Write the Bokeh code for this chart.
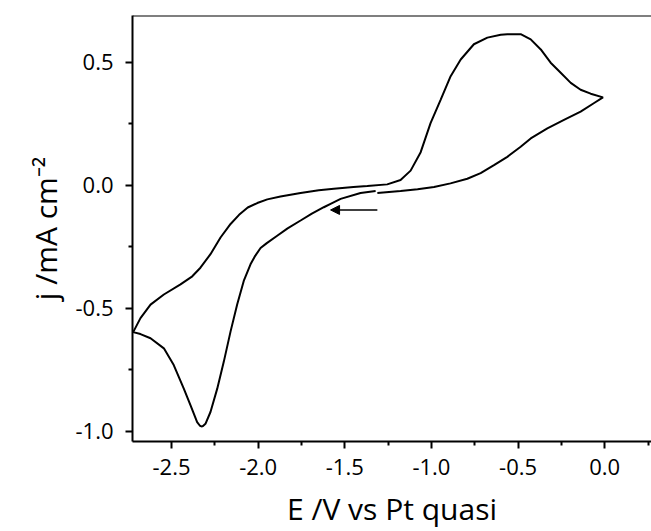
from bokeh.plotting import figure
from bokeh.models import Range1d, Span, Arrow, NormalHead, FixedTicker, PrintfTickFormatter
from bokeh.embed import file_html
from bokeh.resources import INLINE

# ---- data (E / V vs Pt quasi, j / mA cm^-2) ----
cathodic_E = [-1.322, -1.409, -1.524, -1.582, -1.621, -1.690, -1.755, -1.830, -1.890, -1.950,
              -1.986, -2.020, -2.044, -2.083, -2.121, -2.159, -2.198, -2.236, -2.275, -2.304,
              -2.318, -2.327, -2.337, -2.352, -2.390, -2.429, -2.487, -2.544, -2.621, -2.679, -2.721]
cathodic_j = [-0.023, -0.031, -0.055, -0.075, -0.089, -0.115, -0.143, -0.175, -0.205, -0.235,
              -0.255, -0.290, -0.321, -0.389, -0.485, -0.594, -0.717, -0.827, -0.922, -0.970,
              -0.979, -0.981, -0.977, -0.963, -0.895, -0.827, -0.731, -0.663, -0.622, -0.605, -0.597]

anodic_E = [-2.679, -2.621, -2.544, -2.448, -2.380, -2.333, -2.275, -2.217, -2.159, -2.110,
            -2.060, -2.005, -1.947, -1.871, -1.755, -1.650, -1.563, -1.450, -1.370, -1.255,
            -1.178, -1.120, -1.062, -1.005, -0.947, -0.889, -0.831, -0.755, -0.677, -0.600,
            -0.562, -0.485, -0.427, -0.369, -0.312, -0.254, -0.196, -0.139, -0.081, -0.010]
anodic_j = [-0.540, -0.485, -0.444, -0.403, -0.370, -0.335, -0.280, -0.212, -0.157, -0.120,
            -0.090, -0.072, -0.057, -0.045, -0.031, -0.020, -0.014, -0.007, -0.003, 0.004,
            0.022, 0.060, 0.135, 0.253, 0.348, 0.444, 0.512, 0.574, 0.601, 0.613,
            0.615, 0.615, 0.594, 0.553, 0.499, 0.458, 0.417, 0.389, 0.373, 0.358]

return_E = [-0.061, -0.139, -0.235, -0.331, -0.427, -0.485, -0.562, -0.639, -0.716, -0.793,
            -0.890, -0.985, -1.080, -1.178, -1.312]
return_j = [0.335, 0.300, 0.266, 0.232, 0.191, 0.157, 0.116, 0.082, 0.050, 0.027,
            0.008, -0.007, -0.016, -0.023, -0.031]

arrow_E = [-1.312, -1.582]
arrow_j = [-0.100, -0.100]

x_ticks = [-2.5, -2.0, -1.5, -1.0, -0.5, 0.0]
x_minor = [-2.75, -2.25, -1.75, -1.25, -0.75, -0.25, 0.25]
y_ticks = [-1.0, -0.5, 0.0, 0.5]
y_minor = [-0.75, -0.25, 0.25]

x_title = "E /V vs Pt quasi"
y_title = "j /mA cm\u207b\u00b2"

E = cathodic_E + anodic_E + return_E
j = cathodic_j + anodic_j + return_j

X0, X1 = -2.725, 0.270
Y0, Y1 = -1.042, 0.691
FONT = "Open Sans"

p = figure(width=651, height=531, output_backend="svg", toolbar_location=None,
           x_range=Range1d(X0, X1), y_range=Range1d(Y0, Y1),
           min_border_left=132, min_border_right=0, min_border_top=15, min_border_bottom=90)
p.grid.visible = False
p.outline_line_color = None
p.background_fill_color = "white"
p.border_fill_color = "white"

for ax in (p.xaxis[0], p.yaxis[0]):
    ax.axis_line_width = 2
    ax.axis_line_color = "black"
    ax.major_tick_line_width = 2
    ax.minor_tick_line_width = 2
    ax.major_tick_in = 0
    ax.major_tick_out = 7
    ax.minor_tick_in = 0
    ax.minor_tick_out = 4
    ax.major_label_text_font = FONT
    ax.major_label_text_font_size = "22px"
    ax.major_label_text_color = "black"
    ax.formatter = PrintfTickFormatter(format="%.1f")
    ax.axis_label_text_font = FONT
    ax.axis_label_text_font_size = "30px"
    ax.axis_label_text_font_style = "normal"
    ax.axis_label_text_color = "black"

p.xaxis[0].ticker = FixedTicker(ticks=x_ticks, minor_ticks=x_minor)
p.yaxis[0].ticker = FixedTicker(ticks=y_ticks, minor_ticks=y_minor)
p.xaxis[0].major_label_standoff = 10
p.yaxis[0].major_label_standoff = 12
p.xaxis[0].axis_label = x_title
p.yaxis[0].axis_label = y_title
p.xaxis[0].axis_label_standoff = 10
p.yaxis[0].axis_label_standoff = 6

p.add_layout(Span(location=Y1, dimension="width", line_color="black", line_width=2))

p.line(E, j, line_color="black", line_width=2)

p.add_layout(Arrow(end=NormalHead(size=9, fill_color="black", line_color="black", line_width=1),
                   x_start=arrow_E[0], y_start=arrow_j[0], x_end=arrow_E[1], y_end=arrow_j[1],
                   line_color="black", line_width=1.5))

open("out.html", "w").write(file_html(p, INLINE))
